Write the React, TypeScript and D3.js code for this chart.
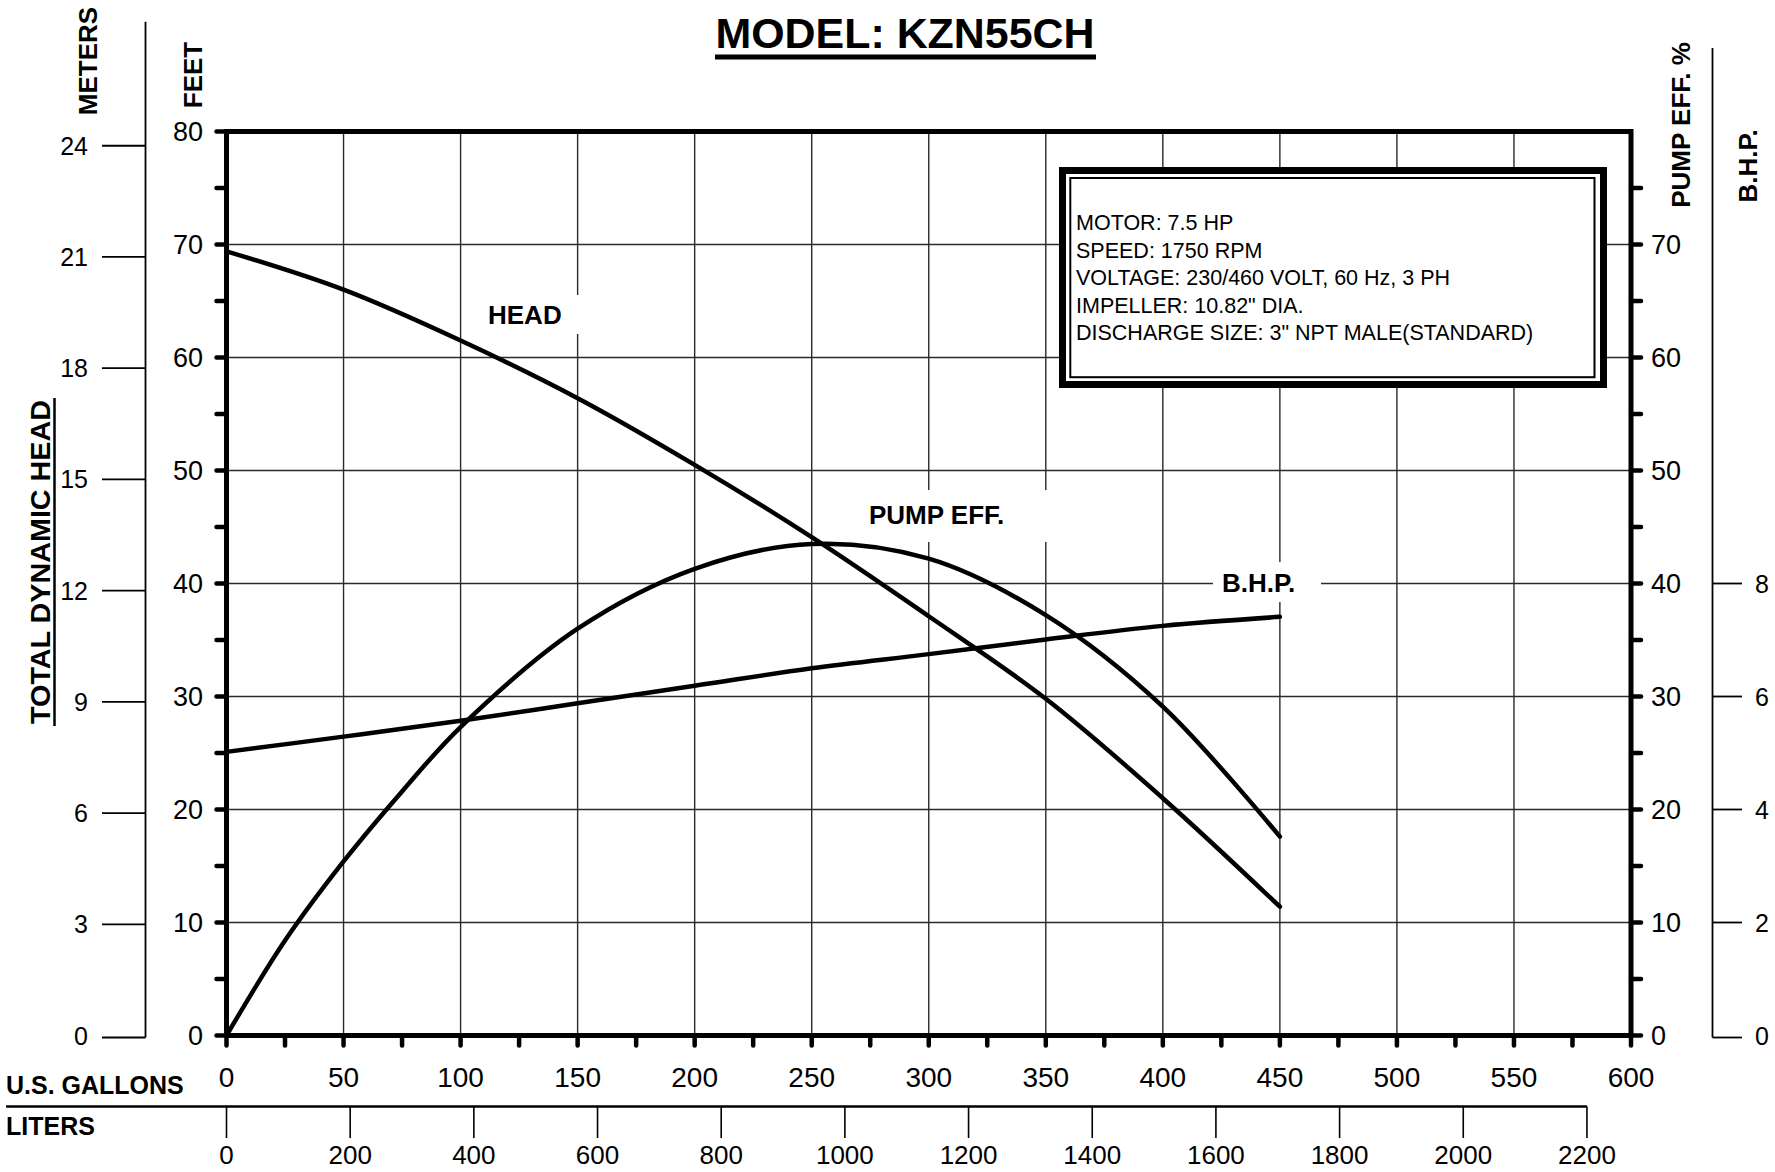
import React from 'react';
import * as d3 from 'd3';

// curve data (x = US gallons per minute)
const headGallons = [0, 50, 100, 150, 200, 250, 300, 350, 400, 450];
const headFeet = [69.4, 66.0, 61.5, 56.4, 50.5, 44.1, 37.1, 29.8, 21.0, 11.4];

const effGallons = [0, 25, 50, 75, 100, 150, 200, 250, 300, 350, 400, 450];
const effPercent = [0, 8.4, 15.4, 21.6, 27.3, 36.0, 41.3, 43.5, 42.2, 37.2, 29.1, 17.6];

const bhpGallons = [0, 50, 100, 150, 200, 250, 300, 350, 400, 450];
const bhpValues = [5.02, 5.29, 5.57, 5.88, 6.19, 6.5, 6.75, 7.01, 7.25, 7.41];

const gallonTicks = [0, 50, 100, 150, 200, 250, 300, 350, 400, 450, 500, 550, 600];
const literTicks = [0, 200, 400, 600, 800, 1000, 1200, 1400, 1600, 1800, 2000, 2200];
const feetTicks = [0, 10, 20, 30, 40, 50, 60, 70, 80];
const effTicks = [0, 10, 20, 30, 40, 50, 60, 70];
const meterTicks = [0, 3, 6, 9, 12, 15, 18, 21, 24];
const bhpTicks = [0, 2, 4, 6, 8];

const infoLines = [
  'MOTOR: 7.5 HP',
  'SPEED: 1750 RPM',
  'VOLTAGE: 230/460 VOLT, 60 Hz, 3 PH',
  'IMPELLER: 10.82" DIA.',
  'DISCHARGE SIZE: 3" NPT MALE(STANDARD)',
];

const FT_PER_M = 3.28084;
const L_PER_GAL = 3.78541;
const FONT = '"Liberation Sans", Arial, Helvetica, sans-serif';

export default function App() {
  const W = 1775;
  const H = 1172;

  const x = d3.scaleLinear().domain([0, 600]).range([226.5, 1631]);
  const y = d3.scaleLinear().domain([0, 80]).range([1035.5, 131.5]);
  const yM = d3.scaleLinear().domain([0, 80 / FT_PER_M]).range([1035.5, 131.5]);
  const yB = d3.scaleLinear().domain([0, 16]).range([1035.5, 131.5]);
  const xL = d3.scaleLinear().domain([0, 600 * L_PER_GAL]).range([226.5, 1631]);

  const x0 = x(0), x1 = x(600), y0 = y(0), y1 = y(80);

  const line = d3.line<[number, number]>().x(d => d[0]).y(d => d[1]).curve(d3.curveCatmullRom.alpha(0.5));
  const headPath = line(headGallons.map((g, i) => [x(g), y(headFeet[i])]));
  const effPath = line(effGallons.map((g, i) => [x(g), y(effPercent[i])]));
  const bhpPath = line(bhpGallons.map((g, i) => [x(g), yB(bhpValues[i])]));

  const minorY = d3.range(0, 81, 5);
  const minorYRight = d3.range(0, 80, 5);
  const minorX = d3.range(0, 601, 25);

  return (
    <svg width={W} height={H} style={{ position: 'absolute', left: 0, top: 0, display: 'block', background: '#fff' }}
      fontFamily={FONT}>
      {/* title */}
      <text x={905} y={48} textAnchor="middle" fontSize={42} fontWeight="bold"
        textLength={379} lengthAdjust="spacingAndGlyphs">MODEL: KZN55CH</text>
      <line x1={715} x2={1096} y1={57} y2={57} stroke="#000" strokeWidth={5} />

      {/* grid */}
      {gallonTicks.slice(1, -1).map(g => (
        <line key={'gx' + g} x1={x(g)} x2={x(g)} y1={y1} y2={y0} stroke="#2a2a2a" strokeWidth={1.4} />
      ))}
      {feetTicks.slice(1, -1).map(f => (
        <line key={'gy' + f} x1={x0} x2={x1} y1={y(f)} y2={y(f)} stroke="#2a2a2a" strokeWidth={1.4} />
      ))}

      {/* white patches behind curve labels */}
      <rect x={472} y={295} width={108} height={39} fill="#fff" />
      <rect x={845} y={490} width={205} height={52} fill="#fff" />
      <rect x={1213} y={562} width={108} height={40} fill="#fff" />

      {/* info box */}
      <rect x={1062.5} y={170.5} width={541} height={214} fill="#fff" stroke="#000" strokeWidth={7} />
      <rect x={1070.3} y={178} width={524.2} height={199.2} fill="none" stroke="#000" strokeWidth={2} />
      {infoLines.map((t, i) => (
        <text key={t} x={1076} y={230 + i * 27.5} fontSize={21.5}>{t}</text>
      ))}

      {/* curves */}
      <path d={headPath || ''} fill="none" stroke="#000" strokeWidth={4.5} strokeLinecap="round" />
      <path d={effPath || ''} fill="none" stroke="#000" strokeWidth={4.5} strokeLinecap="round" />
      <path d={bhpPath || ''} fill="none" stroke="#000" strokeWidth={4.5} strokeLinecap="round" />

      <text x={488} y={324} fontSize={26} fontWeight="bold">HEAD</text>
      <text x={869} y={524} fontSize={26} fontWeight="bold">PUMP EFF.</text>
      <text x={1222} y={592} fontSize={26} fontWeight="bold">B.H.P.</text>

      {/* ticks */}
      {minorY.map(f => (
        <line key={'tl' + f} x1={x0 - 10} x2={x0} y1={y(f)} y2={y(f)} stroke="#000" strokeWidth={4.5} strokeLinecap="round" />
      ))}
      {minorYRight.map(f => (
        <line key={'tr' + f} x1={x1} x2={x1 + 10} y1={y(f)} y2={y(f)} stroke="#000" strokeWidth={4.5} strokeLinecap="round" />
      ))}
      {minorX.map(g => (
        <line key={'tb' + g} x1={x(g)} x2={x(g)} y1={y0} y2={y0 + 10} stroke="#000" strokeWidth={4.5} strokeLinecap="round" />
      ))}

      {/* plot frame */}
      <rect x={x0} y={y1} width={x1 - x0} height={y0 - y1} fill="none" stroke="#000" strokeWidth={5} />

      {/* left feet labels */}
      {feetTicks.map(f => (
        <text key={'fl' + f} x={203} y={y(f)} dy="0.36em" textAnchor="end" fontSize={27}>{f}</text>
      ))}
      {/* right efficiency labels */}
      {effTicks.map(f => (
        <text key={'el' + f} x={1651} y={y(f)} dy="0.36em" textAnchor="start" fontSize={27}>{f}</text>
      ))}

      {/* meters axis */}
      <line x1={145.5} x2={145.5} y1={21.7} y2={yM(0) + 2} stroke="#000" strokeWidth={1.8} />
      {meterTicks.map(m => (
        <g key={'m' + m}>
          <line x1={102} x2={145.5} y1={yM(m) + (m === 0 ? 2 : 0)} y2={yM(m) + (m === 0 ? 2 : 0)} stroke="#000" strokeWidth={1.8} />
          <text x={88} y={yM(m)} dy="0.36em" textAnchor="end" fontSize={25}>{m}</text>
        </g>
      ))}

      {/* BHP axis */}
      <line x1={1712.5} x2={1712.5} y1={48} y2={yB(0) + 2} stroke="#000" strokeWidth={1.8} />
      {bhpTicks.map(b => (
        <g key={'b' + b}>
          <line x1={1712.5} x2={1742} y1={yB(b) + (b === 0 ? 2 : 0)} y2={yB(b) + (b === 0 ? 2 : 0)} stroke="#000" strokeWidth={1.8} />
          <text x={1755} y={yB(b)} dy="0.36em" textAnchor="start" fontSize={25}>{b}</text>
        </g>
      ))}

      {/* gallons labels */}
      {gallonTicks.map(g => (
        <text key={'gl' + g} x={x(g)} y={1087} textAnchor="middle" fontSize={28}>{g}</text>
      ))}
      <text x={6} y={1094} fontSize={25} fontWeight="bold">U.S. GALLONS</text>

      {/* liters axis */}
      <line x1={6} x2={xL(2200)} y1={1106.5} y2={1106.5} stroke="#000" strokeWidth={2.5} />
      {literTicks.map(l => (
        <g key={'l' + l}>
          <line x1={xL(l)} x2={xL(l)} y1={1106.5} y2={1138} stroke="#000" strokeWidth={1.6} />
          <text x={xL(l)} y={1164} textAnchor="middle" fontSize={26}>{l}</text>
        </g>
      ))}
      <text x={6} y={1135} fontSize={25} fontWeight="bold">LITERS</text>

      {/* rotated axis titles */}
      <text transform="translate(97,61) rotate(-90)" textAnchor="middle" fontSize={26} fontWeight="bold">METERS</text>
      <text transform="translate(202,75) rotate(-90)" textAnchor="middle" fontSize={26} fontWeight="bold">FEET</text>
      <text transform="translate(50,562) rotate(-90)" textAnchor="middle" fontSize={28} fontWeight="bold"
        textLength={324} lengthAdjust="spacingAndGlyphs">TOTAL DYNAMIC HEAD</text>
      <line x1={54.5} x2={54.5} y1={398} y2={726} stroke="#000" strokeWidth={2.5} />
      <text transform="translate(1690,125) rotate(-90)" textAnchor="middle" fontSize={26} fontWeight="bold">PUMP EFF. %</text>
      <text transform="translate(1757,166) rotate(-90)" textAnchor="middle" fontSize={26} fontWeight="bold">B.H.P.</text>
    </svg>
  );
}
